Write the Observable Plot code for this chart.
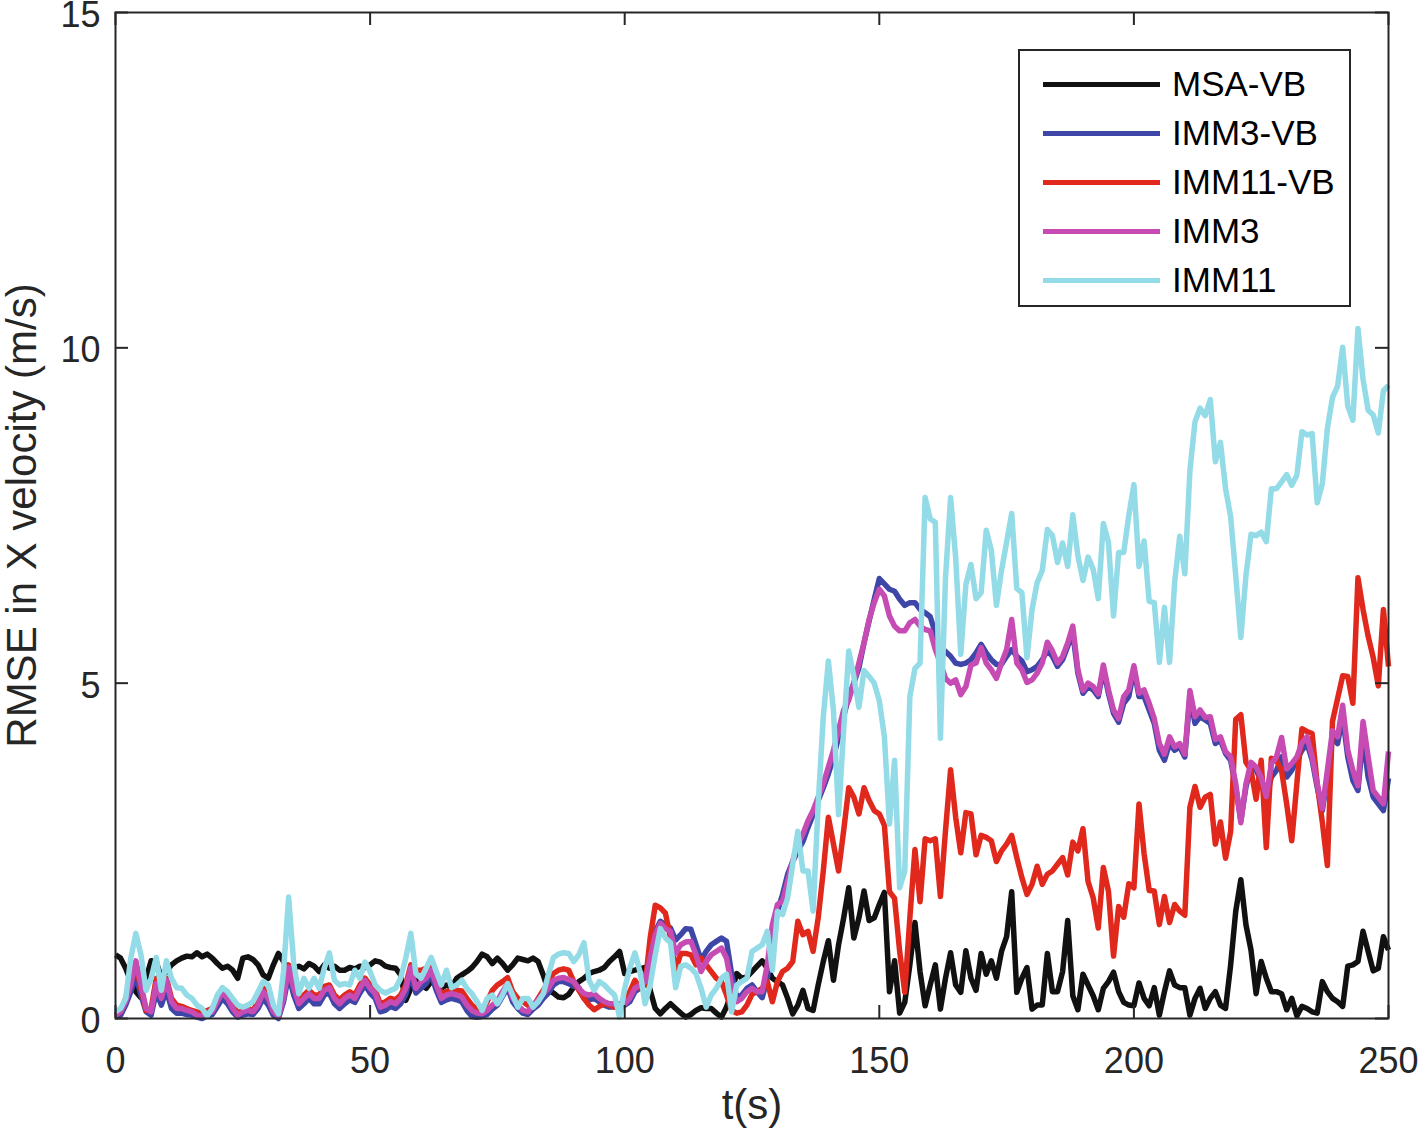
<!DOCTYPE html>
<html><head><meta charset="utf-8">
<script src="https://cdn.jsdelivr.net/npm/d3@7"></script>
<script src="https://cdn.jsdelivr.net/npm/@observablehq/plot@0.6"></script>
<style>
body{margin:0;background:#fff;}
#wrap{position:relative;width:1418px;height:1143px;font-family:"Liberation Sans",Arial,Helvetica,sans-serif;}
#legend{position:absolute;left:1018px;top:49px;width:329px;height:254px;border:2px solid #262626;background:#fff;}
.row{position:absolute;left:0;height:40px;display:flex;align-items:center;}
.sw{width:117px;height:5px;margin-left:23px;margin-right:12px;}
.lab{font-size:35px;color:#000;line-height:40px;}
</style></head>
<body><div id="wrap"></div>
<script>
const time = d3.range(0, 251);
const msaVB = [
0.95,0.9,0.75,0.55,0.4,0.31,0.6,0.86,0.85,0.6,
0.7,0.8,0.86,0.9,0.93,0.92,0.98,0.92,0.96,0.9,
0.82,0.75,0.78,0.72,0.6,0.9,0.92,0.88,0.8,0.65,
0.6,0.8,0.97,0.85,0.72,0.75,0.78,0.74,0.82,0.78,
0.7,0.8,0.75,0.78,0.72,0.72,0.76,0.74,0.78,0.76,
0.8,0.86,0.84,0.78,0.76,0.75,0.65,0.27,0.45,0.57,
0.5,0.45,0.55,0.5,0.45,0.5,0.46,0.6,0.65,0.7,
0.76,0.85,0.96,0.92,0.82,0.9,0.82,0.72,0.8,0.9,
0.88,0.86,0.9,0.85,0.65,0.42,0.38,0.32,0.31,0.36,
0.47,0.55,0.6,0.67,0.7,0.72,0.76,0.85,0.92,1.0,
0.67,0.7,0.72,0.74,0.76,0.42,0.15,0.07,0.15,0.22,
0.15,0.08,0.02,0.06,0.12,0.16,0.15,0.15,0.08,0.02,
0.17,0.4,0.67,0.6,0.62,0.7,0.78,0.86,0.75,0.6,
0.55,0.5,0.3,0.07,0.2,0.42,0.15,0.12,0.5,0.85,
1.16,0.57,1.1,1.5,1.95,1.2,1.5,1.9,1.46,1.5,
1.7,1.88,0.4,0.86,0.08,0.24,0.8,1.43,0.7,0.19,
0.5,0.8,0.14,0.6,0.98,0.5,0.39,1.01,0.6,0.42,
0.97,0.66,0.86,0.6,1.0,1.22,1.89,0.39,0.6,0.76,
0.14,0.2,0.2,0.97,0.4,0.4,0.7,1.46,0.34,0.13,
0.66,0.5,0.34,0.13,0.45,0.55,0.69,0.4,0.24,0.2,
0.19,0.53,0.3,0.19,0.46,0.05,0.4,0.71,0.5,0.46,
0.46,0.05,0.3,0.45,0.15,0.3,0.4,0.2,0.15,0.8,
1.6,2.07,1.4,1.02,0.37,0.85,0.6,0.4,0.4,0.37,
0.13,0.3,0.04,0.18,0.15,0.1,0.08,0.55,0.4,0.3,
0.25,0.18,0.78,0.8,0.85,1.3,1.0,0.71,0.75,1.22,
1.02];
const imm3VB = [
0.02,0.05,0.2,0.4,0.65,0.35,0.1,0.05,0.4,0.2,
0.42,0.15,0.08,0.08,0.06,0.05,0.02,0,0.04,0.06,
0.18,0.3,0.22,0.1,0.02,0.05,0.07,0.06,0.15,0.3,
0.2,0.05,0,0.25,0.65,0.35,0.15,0.22,0.3,0.22,
0.22,0.35,0.38,0.22,0.15,0.22,0.28,0.24,0.38,0.5,
0.38,0.3,0.1,0.12,0.18,0.15,0.22,0.36,0.65,0.38,
0.45,0.52,0.65,0.42,0.24,0.28,0.3,0.28,0.25,0.12,
0.03,0.02,0.03,0.06,0.14,0.2,0.33,0.46,0.25,0.15,
0.08,0.06,0.14,0.2,0.3,0.38,0.5,0.55,0.55,0.52,
0.48,0.46,0.3,0.28,0.3,0.25,0.2,0.17,0.17,0.18,
0.2,0.25,0.4,0.45,0.5,0.9,1.3,1.45,1.4,1.35,
1.17,1.25,1.34,1.33,1.1,0.87,1.0,1.1,1.15,1.2,
1.15,0.66,0.31,0.35,0.45,0.5,0.4,0.31,0.6,1.1,
1.6,1.85,2.15,2.34,2.5,2.64,2.85,3.04,3.25,3.44,
3.65,3.89,4.2,4.5,4.8,5.0,5.23,5.6,5.93,6.25,
6.56,6.48,6.4,6.37,6.25,6.16,6.2,6.2,6.1,6.05,
5.99,5.75,5.55,5.47,5.4,5.3,5.28,5.3,5.35,5.45,
5.58,5.45,5.35,5.28,5.28,5.4,5.5,5.4,5.33,5.17,
5.2,5.25,5.35,5.49,5.4,5.25,5.35,5.55,5.75,5.15,
4.85,4.95,4.9,4.8,5.2,4.85,4.55,4.42,4.7,4.8,
5.2,4.8,4.8,4.6,4.4,4.0,3.85,4.1,4.0,4.05,
3.9,4.8,4.4,4.5,4.45,4.4,4.1,4.15,3.95,3.85,
3.45,2.95,3.45,3.75,3.7,3.55,3.3,3.6,3.7,3.9,
3.6,3.7,3.85,4.0,4.1,3.85,3.45,3.1,3.6,4.2,
4.1,4.5,3.9,3.55,3.4,4.2,3.6,3.3,3.2,3.1,
3.58];
const imm11VB = [
0.05,0.1,0.3,0.55,0.8,0.45,0.12,0.15,0.6,0.4,
0.6,0.3,0.2,0.18,0.15,0.12,0.1,0.08,0.12,0.15,
0.3,0.45,0.35,0.2,0.08,0.12,0.15,0.12,0.25,0.45,
0.35,0.12,0.05,0.35,0.8,0.5,0.28,0.35,0.42,0.35,
0.35,0.48,0.5,0.35,0.28,0.35,0.4,0.35,0.5,0.6,
0.5,0.42,0.22,0.25,0.3,0.28,0.35,0.5,0.8,0.72,
0.72,0.75,0.8,0.55,0.37,0.4,0.42,0.42,0.41,0.3,
0.2,0.14,0.12,0.25,0.42,0.5,0.55,0.61,0.4,0.3,
0.25,0.2,0.17,0.3,0.42,0.55,0.67,0.72,0.74,0.72,
0.55,0.42,0.3,0.2,0.13,0.18,0.22,0.2,0.17,0.17,
0.25,0.4,0.57,0.45,0.5,1.2,1.69,1.65,1.57,1.2,
0.72,0.97,0.97,0.95,0.8,0.9,0.8,0.7,0.6,0.55,
0.35,0.12,0.08,0.1,0.2,0.36,0.4,0.45,0.55,0.25,
0.55,0.7,0.75,0.85,1.45,1.25,1.3,1.0,1.5,2.2,
3.0,2.6,2.2,2.8,3.44,3.3,3.05,3.44,3.25,3.1,
3.05,2.88,1.89,1.79,1.0,0.39,1.5,2.52,1.74,2.68,
2.65,2.68,1.82,2.8,3.71,3.0,2.47,3.07,3.05,2.44,
2.73,2.7,2.65,2.34,2.5,2.6,2.73,2.4,2.1,1.85,
2.0,2.27,2.0,2.15,2.2,2.3,2.4,2.14,2.63,2.5,
2.83,2.04,1.8,1.35,2.25,1.9,0.93,1.67,1.51,2.01,
1.95,3.2,2.46,1.91,1.9,1.4,1.82,1.43,1.7,1.6,
1.54,3.15,3.46,3.15,3.3,3.34,2.6,2.93,2.39,2.79,
4.46,4.53,3.82,3.7,3.27,3.85,2.55,3.88,3.85,3.7,
3.2,2.65,3.5,4.32,4.28,4.25,3.5,2.93,2.28,4.43,
4.77,5.11,5.1,4.7,6.57,6.1,5.7,5.38,4.96,6.1,
5.25];
const imm3 = [
0.05,0.1,0.25,0.5,0.86,0.5,0.15,0.1,0.52,0.3,
0.57,0.25,0.15,0.15,0.12,0.1,0.05,0.03,0.08,0.1,
0.25,0.39,0.3,0.15,0.05,0.1,0.12,0.1,0.2,0.4,
0.3,0.1,0.03,0.3,0.76,0.45,0.22,0.3,0.37,0.3,
0.3,0.42,0.46,0.3,0.22,0.3,0.35,0.3,0.45,0.57,
0.45,0.37,0.17,0.2,0.25,0.22,0.3,0.45,0.76,0.45,
0.55,0.6,0.72,0.5,0.3,0.35,0.37,0.35,0.32,0.2,
0.12,0.08,0.07,0.12,0.2,0.26,0.4,0.52,0.3,0.2,
0.12,0.1,0.2,0.28,0.37,0.45,0.57,0.6,0.61,0.58,
0.55,0.45,0.37,0.35,0.37,0.3,0.25,0.22,0.22,0.22,
0.22,0.3,0.45,0.5,0.55,0.9,1.25,1.42,1.34,1.3,
0.97,1.1,1.14,1.15,0.95,0.7,0.85,0.95,1.0,1.05,
0.9,0.5,0.25,0.3,0.4,0.45,0.4,0.4,0.8,1.4,
1.7,1.75,2.05,2.35,2.6,2.75,2.95,3.1,3.3,3.5,
3.75,4.0,4.3,4.6,4.75,5.0,5.3,5.6,5.95,6.2,
6.4,6.3,6.0,5.85,5.78,5.78,5.9,5.95,5.85,5.8,
5.78,5.5,5.3,5.07,5.0,5.05,4.83,4.95,5.27,5.3,
5.53,5.3,5.2,5.07,5.3,5.5,5.95,5.3,5.2,5.01,
5.05,5.15,5.3,5.61,5.48,5.3,5.4,5.6,5.85,5.2,
4.89,5.0,4.95,4.84,5.27,4.9,4.6,4.47,4.8,4.9,
5.26,4.85,4.9,4.7,4.47,4.1,3.94,4.2,4.05,4.1,
3.94,4.89,4.5,4.6,4.49,4.5,4.16,4.2,3.98,3.9,
3.5,2.92,3.5,3.82,3.75,3.6,3.31,3.8,3.9,4.19,
3.72,3.8,3.9,4.11,4.2,3.9,3.5,3.13,3.7,4.29,
4.2,4.67,4.0,3.7,3.47,4.43,3.9,3.4,3.3,3.2,
3.98];
const imm11 = [
0.1,0.15,0.3,0.9,1.27,0.95,0.42,0.6,0.91,0.42,
0.86,0.6,0.46,0.45,0.35,0.3,0.2,0.15,0.04,0.15,
0.35,0.46,0.4,0.3,0.2,0.17,0.2,0.25,0.4,0.55,
0.5,0.2,0.07,0.7,1.81,0.82,0.37,0.6,0.45,0.6,
0.45,0.75,0.98,0.57,0.5,0.52,0.5,0.72,0.6,0.84,
0.7,0.5,0.42,0.38,0.42,0.45,0.6,0.9,1.27,0.67,
0.6,0.75,0.91,0.7,0.5,0.72,0.46,0.5,0.57,0.45,
0.37,0.25,0.12,0.3,0.35,0.22,0.35,0.52,0.35,0.17,
0.3,0.3,0.17,0.25,0.37,0.65,0.91,0.96,0.98,0.97,
0.85,0.95,1.13,0.57,0.42,0.55,0.5,0.42,0.35,0.02,
0.45,0.75,0.98,0.7,0.22,0.5,0.95,1.34,1.2,1.13,
0.46,0.78,0.8,0.75,0.67,0.45,0.17,0.35,0.45,0.6,
0.66,0.1,0.5,0.55,0.6,1.0,1.05,1.1,1.3,0.72,
1.6,1.55,1.8,2.3,2.79,2.2,2.2,1.6,3.2,4.5,
5.33,4.59,3.04,4.3,5.48,5.1,4.64,5.19,5.1,5.0,
4.74,4.2,2.9,3.85,1.95,2.2,4.8,5.22,5.3,7.77,
7.45,7.4,4.18,6.57,7.77,6.87,5.43,6.47,6.77,6.26,
6.35,7.28,6.98,6.16,6.68,7.1,7.53,6.41,6.35,5.38,
6.1,6.5,6.68,7.29,7.2,6.8,7.09,6.74,7.51,6.9,
6.53,6.88,6.7,6.26,7.38,7.1,6.0,6.95,6.95,7.5,
7.96,6.74,7.12,6.22,6.2,5.31,6.13,5.31,6.5,7.19,
6.63,8.17,8.9,9.1,8.99,9.23,8.3,8.59,7.9,7.48,
6.6,5.68,6.6,7.22,7.2,7.25,7.11,7.9,7.9,8.0,
8.11,7.95,8.1,8.75,8.7,8.72,7.69,7.97,8.8,9.26,
9.43,10.01,9.13,8.92,10.29,9.53,9.07,9.0,8.73,9.36,
9.44];

const seriesNames = ["MSA-VB", "IMM3-VB", "IMM11-VB", "IMM3", "IMM11"];
const seriesValues = [msaVB, imm3VB, imm11VB, imm3, imm11];
const seriesColors = ["#111111", "#3e46a8", "#e0281c", "#c64bb3", "#92dbe7"];
const xTicks = [0, 50, 100, 150, 200, 250];
const yTicks = [0, 5, 10, 15];
const xLabel = "t(s)";
const yLabel = "RMSE in X velocity (m/s)";

const W = 1418, H = 1143, ML = 115, MR = 30, MT = 12, MB = 125;
const innerW = W - ML - MR, innerH = H - MT - MB, tickLen = 13;
const axisColor = "#262626";

const lineMarks = seriesValues.map((vals, i) =>
  Plot.line(time.map((t, j) => ({t, v: vals[j]})), {
    x: "t", y: "v", stroke: seriesColors[i], strokeWidth: 5.5,
    strokeLinejoin: "round", strokeLinecap: "butt"
  })
);

const chart = Plot.plot({
  width: W, height: H,
  marginLeft: ML, marginRight: MR, marginTop: MT, marginBottom: MB,
  x: {domain: [0, 250]},
  y: {domain: [0, 15]},
  style: {fontFamily: "'Liberation Sans', Arial, Helvetica, sans-serif", background: "white", color: axisColor, overflow: "visible"},
  marks: [
    ...lineMarks,
    Plot.ruleX(xTicks, {x: d => d, insetTop: innerH - tickLen, stroke: axisColor, strokeWidth: 2}),
    Plot.ruleX(xTicks, {x: d => d, insetBottom: innerH - tickLen, stroke: axisColor, strokeWidth: 2}),
    Plot.ruleY(yTicks, {y: d => d, insetRight: innerW - tickLen, stroke: axisColor, strokeWidth: 2}),
    Plot.ruleY(yTicks, {y: d => d, insetLeft: innerW - tickLen, stroke: axisColor, strokeWidth: 2}),
    Plot.frame({stroke: axisColor, strokeWidth: 2}),
    Plot.axisX({ticks: xTicks, tickSize: 0, tickPadding: 29, fontSize: 36, label: null, tickFormat: d => String(d)}),
    Plot.axisY({ticks: yTicks, tickSize: 0, tickPadding: 15, fontSize: 36, dy: 3, label: null, tickFormat: d => String(d)}),
    Plot.text([yLabel], {text: d => d, frameAnchor: "left", textAnchor: "middle", dx: -93, rotate: -90, fontSize: 42, fill: axisColor}),
    Plot.text([xLabel], {text: d => d, frameAnchor: "bottom", textAnchor: "middle", dy: 100, fontSize: 42, fill: axisColor})
  ]
});

const wrap = document.getElementById("wrap");
wrap.appendChild(chart);

const legend = document.createElement("div");
legend.id = "legend";
const rowCenters = [33, 82, 131, 180, 229];
seriesNames.forEach((name, i) => {
  const row = document.createElement("div");
  row.className = "row";
  row.style.top = (rowCenters[i] - 20) + "px";
  const sw = document.createElement("div");
  sw.className = "sw";
  sw.style.background = seriesColors[i];
  const lab = document.createElement("span");
  lab.className = "lab";
  lab.textContent = name;
  row.appendChild(sw);
  row.appendChild(lab);
  legend.appendChild(row);
});
wrap.appendChild(legend);
</script>
</body></html>
